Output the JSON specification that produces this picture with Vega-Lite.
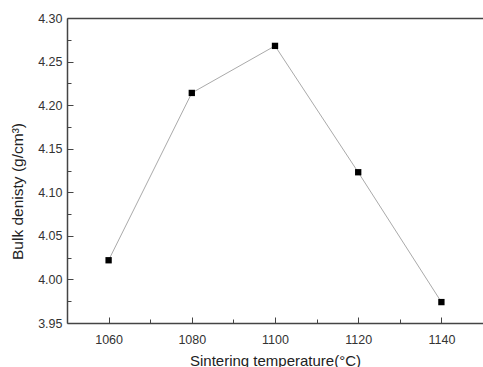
{
  "$schema": "https://vega.github.io/schema/vega-lite/v6.json",
  "width": 416,
  "height": 305,
  "autosize": "none",
  "padding": {"left": 67, "top": 18, "right": 0, "bottom": 44},
  "background": "white",
  "config": {
    "font": "Liberation Sans",
    "view": {"stroke": null},
    "axis": {"grid": false, "domainColor": "#444", "domainWidth": 1.5, "tickColor": "#444", "tickWidth": 1, "labelColor": "#333", "titleColor": "#222", "labelFont": "Liberation Sans", "titleFont": "Liberation Sans", "titleFontWeight": "normal"}
  },
  "data": {"values": [
    {"temp": 1060, "density": 4.022},
    {"temp": 1080, "density": 4.214},
    {"temp": 1100, "density": 4.268},
    {"temp": 1120, "density": 4.123},
    {"temp": 1140, "density": 3.974}
  ]},
  "layer": [
    {
      "mark": {"type": "line", "color": "#aaaaaa", "strokeWidth": 1},
      "encoding": {
        "x": {"field": "temp", "type": "quantitative", "scale": {"domain": [1050, 1150], "nice": false, "zero": false},
          "axis": {"orient": "bottom", "values": [1060, 1080, 1100, 1120, 1140], "format": "d", "tickSize": -6, "labelPadding": 16, "labelFontSize": 12.5, "title": "Sintering temperature(°C)", "titleFontSize": 15, "titleBaseline": "alphabetic", "titleY": 42}},
        "y": {"field": "density", "type": "quantitative", "scale": {"domain": [3.95, 4.30], "nice": false, "zero": false},
          "axis": {"orient": "left", "values": [3.95, 4.0, 4.05, 4.1, 4.15, 4.2, 4.25, 4.3], "format": ".2f", "tickSize": -6, "labelPadding": 11, "labelFontSize": 12.5, "title": "Bulk denisty (g/cm³)", "titleFontSize": 15.5, "titleAngle": -90, "titleBaseline": "alphabetic", "titleX": -45, "titleY": 173}}
      }
    },
    {
      "mark": {"type": "square", "size": 40, "color": "#000000", "opacity": 1, "filled": true},
      "encoding": {
        "x": {"field": "temp", "type": "quantitative", "scale": {"domain": [1050, 1150], "nice": false, "zero": false},
          "axis": {"orient": "bottom", "values": [1070, 1090, 1110, 1130], "tickSize": -4, "labels": false, "domain": false, "title": null}},
        "y": {"field": "density", "type": "quantitative", "scale": {"domain": [3.95, 4.30], "nice": false, "zero": false},
          "axis": {"orient": "left", "values": [3.975, 4.025, 4.075, 4.125, 4.175, 4.225, 4.275], "tickSize": -4, "labels": false, "domain": false, "title": null}}
      }
    },
    {
      "mark": {"type": "point", "opacity": 0},
      "encoding": {
        "x": {"field": "temp", "type": "quantitative", "scale": {"domain": [1050, 1150], "nice": false, "zero": false},
          "axis": {"orient": "top", "ticks": false, "labels": false, "domain": true, "title": null}},
        "y": {"field": "density", "type": "quantitative", "scale": {"domain": [3.95, 4.30], "nice": false, "zero": false}, "axis": null}
      }
    }
  ],
  "resolve": {"axis": {"x": "independent", "y": "independent"}}
}
